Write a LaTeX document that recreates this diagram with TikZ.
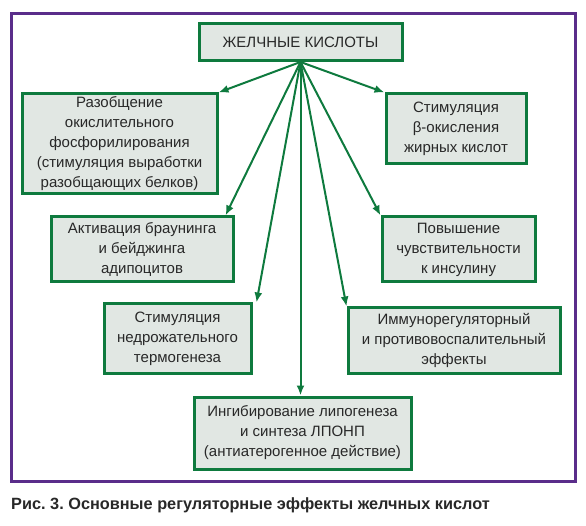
\documentclass[tikz,border=0pt]{standalone}
\usepackage{fontspec}
\setmainfont{Liberation Sans}
\usetikzlibrary{arrows.meta}
\frenchspacing

\definecolor{effgreen}{RGB}{14,122,62}
\definecolor{effgrey}{RGB}{225,231,227}
\definecolor{framepurple}{RGB}{90,45,138}
\definecolor{efftext}{RGB}{40,40,40}

\tikzset{
    effbox/.style={draw=effgreen, line width=3pt, fill=effgrey, align=center,
        inner sep=2pt, text=efftext, font=\fontsize{15}{20}\selectfont},
    effarrow/.style={draw=effgreen, line width=2pt, -{Latex[length=10pt,width=8pt]}}
}

\begin{document}
\begin{tikzpicture}[x=1pt, y=-1pt]
    \useasboundingbox (0,0) rectangle (586,526);

    % outer frame and caption
    \draw[framepurple, line width=3pt] (11.5,13.5) rectangle (575.5,481.5);
    \node[anchor=base west, inner sep=0pt, text=efftext, font=\bfseries\fontsize{16.3}{18}\selectfont]
        (caption) at (11,509) {Рис. 3. Основные регуляторные эффекты желчных кислот};

    % boxes
    \node[effbox, minimum width=203pt, minimum height=37pt] (acids) at (300.5,42)
        {ЖЕЛЧНЫЕ КИСЛОТЫ};
    \node[effbox, minimum width=195pt, minimum height=100pt] (uncoupl) at (119.5,144)
        {Разобщение\\окислительного\\фосфорилирования\\(стимуляция выработки\\разобщающих белков)};
    \node[effbox, minimum width=182pt, minimum height=65pt] (brown) at (142,249.5)
        {Активация браунинга\\и бейджинга\\адипоцитов};
    \node[effbox, minimum width=140pt, minimum height=70pt] (betaox) at (456,129)
        {Стимуляция\\β-окисления\\жирных кислот};
    \node[effbox, minimum width=153pt, minimum height=65pt] (insulin) at (458.5,249.5)
        {Повышение\\чувствительности\\к инсулину};
    \node[effbox, minimum width=147pt, minimum height=69pt] (thermo) at (177.5,338.5)
        {Стимуляция\\недрожательного\\термогенеза};
    \node[effbox, minimum width=212pt, minimum height=65pt] (immune) at (454,340.5)
        {Иммунорегуляторный\\и противовоспалительный\\эффекты};
    \node[effbox, minimum width=217pt, minimum height=72pt] (lipo) at (302.5,433)
        {Ингибирование липогенеза\\и синтеза ЛПОНП\\(антиатерогенное действие)};

    % arrows
    \draw[effarrow] (acids.south) -- (uncoupl.north east);
    \draw[effarrow] (acids.south) -- (betaox.north west);
    \draw[effarrow] (acids.south) -- ([xshift=-9pt]brown.north east);
    \draw[effarrow] (acids.south) -- (insulin.north west);
    \draw[effarrow] (acids.south) -- ([xshift=4pt]thermo.north east);
    \draw[effarrow] (acids.south) -- (immune.north west);
    \draw[effarrow] (acids.south) -- (acids.south |- lipo.north);
\end{tikzpicture}
\end{document}
